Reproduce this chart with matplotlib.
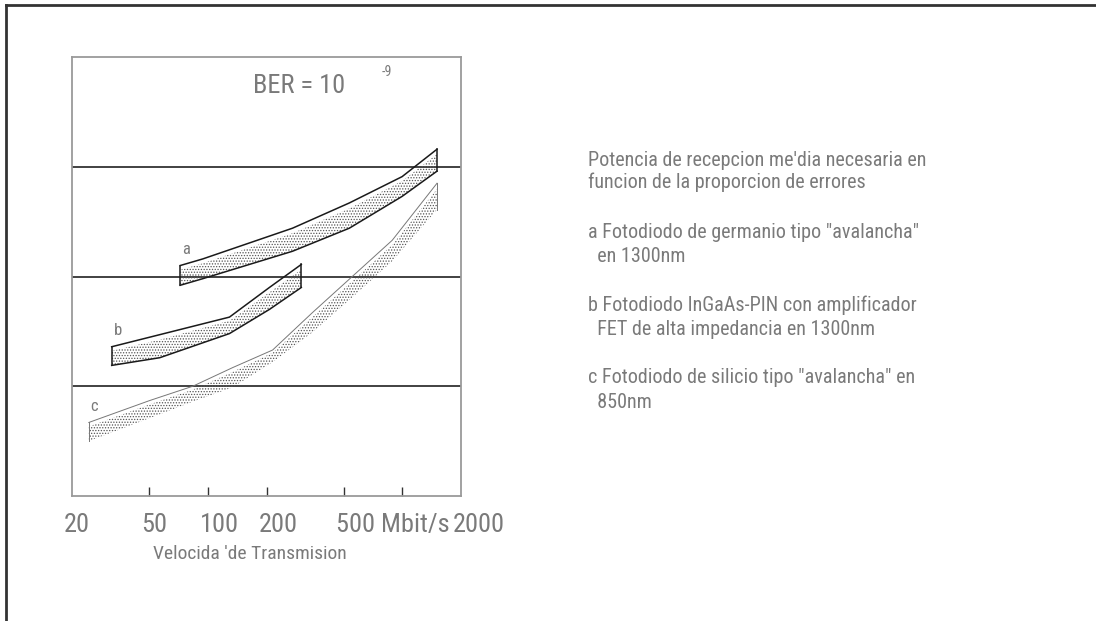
import matplotlib
matplotlib.use("Agg")
import matplotlib.pyplot as plt
from matplotlib import font_manager
from matplotlib.lines import Line2D
from matplotlib.transforms import blended_transform_factory, offset_copy
import numpy as np


def pick_font(names):
    for name in names:
        try:
            font_manager.findfont(name, fallback_to_default=False)
            return name
        except ValueError:
            continue
    return "DejaVu Sans"


FONT = pick_font(["Liberation Sans Narrow", "Roboto Condensed", "DejaVu Sans"])
plt.rcParams["font.family"] = FONT
plt.rcParams["hatch.linewidth"] = 0.6

TXT = "#7a7a7a"
DOTS = "#555555"

# bit rate (Mbit/s) and received power (grid units) for each detector band
a_rate = [72, 94, 272, 533, 996, 1506]
a_high = [2.10, 2.16, 2.44, 2.67, 2.91, 3.16]
a_low = [1.92, 1.98, 2.23, 2.44, 2.73, 2.96]

b_rate = [32, 56.5, 129, 207, 302]
b_high = [1.36, 1.47, 1.63, 1.90, 2.11]
b_low = [1.19, 1.26, 1.48, 1.70, 1.90]

c_rate = [24.4, 50.2, 83.5, 134, 215, 344, 552, 886, 1506]
c_high = [0.67, 0.87, 1.00, 1.17, 1.33, 1.67, 2.00, 2.33, 2.85]
c_low = [0.50, 0.71, 0.86, 0.99, 1.22, 1.49, 1.81, 2.14, 2.61]

grid_levels = [1, 2, 3]
tick_rates = [50, 100, 200, 500, 1000]
rate_labels = ["20", "50", "100", "200", "500 Mbit/s", "2000"]
label_rates = [20, 50, 100, 200, 500, 2000]

notes = [
    "Potencia de recepcion me'dia necesaria en",
    "funcion de la proporcion de errores",
    "",
    'a Fotodiodo de germanio tipo "avalancha"',
    "  en 1300nm",
    "",
    "b Fotodiodo InGaAs-PIN con amplificador",
    "  FET de alta impedancia en 1300nm",
    "",
    'c Fotodiodo de silicio tipo "avalancha" en',
    "  850nm",
]

fig = plt.figure(figsize=(10.96, 6.21), dpi=100)
ax = fig.add_axes([72 / 1096, 125 / 621, 389 / 1096, 439 / 621])
ax.set_xscale("log")
ax.set_xlim(20, 2000)
ax.set_ylim(0, 4)
ax.set_yticks([])
ax.set_xticks(tick_rates)
ax.set_xticklabels([])
ax.xaxis.set_minor_locator(matplotlib.ticker.NullLocator())
ax.tick_params(axis="x", direction="in", length=6.5, width=1.0,
               color="#333333")
for s in ax.spines.values():
    s.set_color("#9a9a9a")
    s.set_linewidth(1.3)

for lvl in grid_levels:
    ax.axhline(lvl, color="#333333", lw=1.3, zorder=1)


def band(rate, high, low, edge, lw, lower_edge=True):
    rate = np.asarray(rate)
    high = np.asarray(high)
    low = np.asarray(low)
    top = low + 0.78 * (high - low)
    ax.fill_between(rate, low, top, facecolor="none", edgecolor=DOTS,
                    hatch="......", lw=0, zorder=2)
    ax.plot(rate, high, color=edge, lw=lw, zorder=3)
    if lower_edge:
        ax.plot(rate, low, color=edge, lw=lw, zorder=3)
    ax.plot([rate[0], rate[0]], [low[0], high[0]], color=edge, lw=lw, zorder=3)
    ax.plot([rate[-1], rate[-1]], [low[-1], high[-1]], color=edge, lw=lw,
            zorder=3)


band(a_rate, a_high, a_low, "#1a1a1a", 1.1)
band(b_rate, b_high, b_low, "#1a1a1a", 1.1)
band(c_rate, c_high, c_low, "#777777", 0.7, lower_edge=False)

ax.text(a_rate[0] + 2, a_high[0] + 0.08, "a", color=TXT, fontsize=12,
        ha="left", va="bottom")
ax.text(b_rate[0] + 1, b_high[0] + 0.08, "b", color=TXT, fontsize=12,
        ha="left", va="bottom")
ax.text(c_rate[0] + 0.5, c_high[0] + 0.08, "c", color=TXT, fontsize=12,
        ha="left", va="bottom")

ax.text(0.465, 0.935, "BER = 10", transform=ax.transAxes, color=TXT,
        fontsize=19, ha="left", va="center")
ax.text(0.795, 0.965, "-9", transform=ax.transAxes, color=TXT,
        fontsize=10, ha="left", va="center")

# rate labels under the axis, left edge a little before each tick
trans = offset_copy(blended_transform_factory(ax.transData, ax.transAxes),
                    fig=fig, x=-8, y=0, units="dots")
for r, lab in zip(label_rates, rate_labels):
    ax.text(r, -0.066, lab, transform=trans, color=TXT, fontsize=19,
            ha="left", va="center", clip_on=False)

fig.text(153 / 1096, 1 - 554 / 621, "Velocida 'de Transmision", color=TXT,
         fontsize=14, ha="left", va="center")

y0 = 1 - 160 / 621
step = 22 / 621
for i, line in enumerate(notes):
    fig.text(588 / 1096, y0 - i * step * (1.1 if i > 1 else 1.0), line,
             color=TXT, fontsize=14.5, ha="left", va="center")

# drawing sheet border
fig.add_artist(Line2D([6 / 1096, 1], [1 - 5 / 621, 1 - 5 / 621],
                      transform=fig.transFigure, color="#333333", lw=2))
fig.add_artist(Line2D([6 / 1096, 6 / 1096], [0, 1 - 5 / 621],
                      transform=fig.transFigure, color="#333333", lw=2))

fig.savefig("out.png", dpi=100)
